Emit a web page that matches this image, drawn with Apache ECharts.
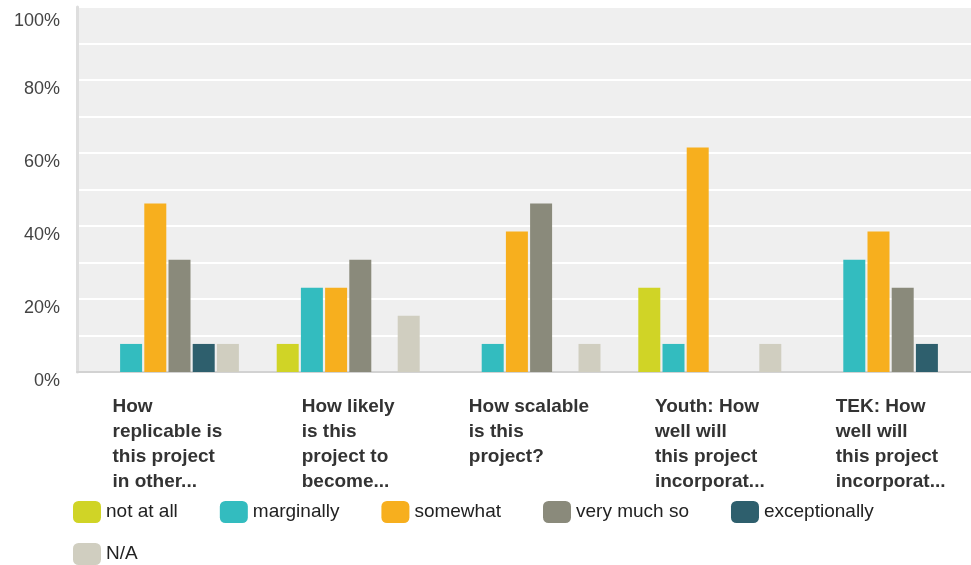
<!DOCTYPE html>
<html>
<head>
<meta charset="utf-8">
<script src="https://cdn.jsdelivr.net/npm/echarts@6/dist/echarts.min.js"></script>
<style>
html,body{margin:0;padding:0;background:#fff;overflow:hidden;width:971px;height:565px;}
#chart{width:990px;height:565px;}
</style>
</head>
<body>
<div id="chart"></div>
<script>
var categories = [
  "How\nreplicable is\nthis project\nin other...",
  "How likely\nis this\nproject to\nbecome...",
  "How scalable\nis this\nproject?",
  "Youth: How\nwell will\nthis project\nincorporat...",
  "TEK: How\nwell will\nthis project\nincorporat..."
];
var seriesNames = ["not at all", "marginally", "somewhat", "very much so", "exceptionally", "N/A"];
var seriesColors = ["#d0d426", "#33bcbf", "#f7af1e", "#8a8a7b", "#2e5f6d", "#d0cec0"];
var notAtAll     = [0, 7.69, 0, 23.08, 0];
var marginally   = [7.69, 23.08, 7.69, 7.69, 30.77];
var somewhat     = [46.15, 23.08, 38.46, 61.54, 38.46];
var veryMuchSo   = [30.77, 30.77, 46.15, 0, 23.08];
var exceptionally= [7.69, 0, 0, 0, 7.69];
var notApplicable= [7.69, 15.38, 7.69, 7.69, 0];
var seriesValues = [notAtAll, marginally, somewhat, veryMuchSo, exceptionally, notApplicable];
var yTickLabels = ["0%", "20%", "40%", "60%", "80%", "100%"];

var FONT = '"Liberation Sans", Arial, Helvetica, sans-serif';
var chart = echarts.init(document.getElementById('chart'), null, {renderer: 'canvas'});
var series = seriesNames.map(function (name, i) {
  return {
    name: name,
    type: 'bar',
    data: seriesValues[i],
    barWidth: 22,
    barGap: '10%',
    itemStyle: {color: seriesColors[i]},
    emphasis: {disabled: true}
  };
});
var legendCommon = {
  orient: 'horizontal',
  icon: 'roundRect',
  padding: 0,
  itemWidth: 28, itemHeight: 22, itemGap: 42,
  textStyle: {fontSize: 19, color: '#222222', fontFamily: FONT, padding: [0, 0, 6, 0]},
  selectedMode: false
};
chart.setOption({
  animation: false,
  textStyle: {fontFamily: FONT},
  grid: {
    left: 77, top: 7, bottom: 193, width: 904,
    show: true, backgroundColor: '#efefef', borderWidth: 0
  },
  xAxis: {
    type: 'category',
    data: categories,
    axisTick: {show: false},
    axisLine: {show: true, lineStyle: {color: '#d2d2d2', width: 2}},
    axisLabel: {
      interval: 0,
      margin: 22,
      align: 'center',
      verticalAlign: 'top',
      formatter: function (v) {
        return v.split('\n').map(function (l) { return '{a|' + l + '}'; }).join('\n');
      },
      rich: {
        a: {align: 'left', fontFamily: FONT, fontWeight: 'bold', fontSize: 19, lineHeight: 25, color: '#333333'}
      }
    }
  },
  yAxis: {
    type: 'value',
    min: 0, max: 100, interval: 10,
    axisLine: {show: true, lineStyle: {color: '#dedede', width: 3}},
    axisTick: {show: false},
    splitLine: {show: true, lineStyle: {color: '#ffffff', width: 2}},
    axisLabel: {
      margin: 17,
      fontSize: 18,
      color: '#444444',
      fontFamily: FONT,
      verticalAlign: 'top',
      formatter: function (v) {
        if (v % 20 !== 0) return '';
        if (v === 100) return '{t|' + yTickLabels[5] + '}';
        return yTickLabels[v / 20];
      },
      rich: {
        t: {fontSize: 18, color: '#444444', fontFamily: FONT, padding: [5, 0, 0, 0]}
      }
    }
  },
  legend: [
    Object.assign({data: seriesNames.slice(0, 5), left: 73, top: 501}, legendCommon),
    Object.assign({data: seriesNames.slice(5), left: 73, top: 543}, legendCommon)
  ],
  series: series
});
</script>
</body>
</html>
